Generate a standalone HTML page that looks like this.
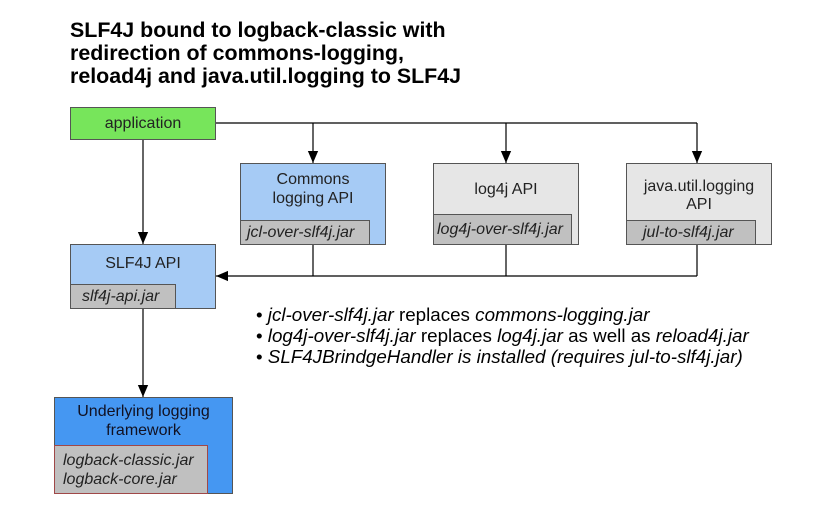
<!DOCTYPE html>
<html><head><style>
body{margin:0;width:838px;height:506px;background:#fff;overflow:hidden;font-family:"Liberation Sans",sans-serif;position:relative}
.t{position:absolute;left:70px;top:19px;font-weight:bold;font-size:21.4px;line-height:23px;color:#000;white-space:nowrap}
.b{position:absolute;box-sizing:border-box;border:1px solid #555;font-size:16px;color:#222;text-align:center;white-space:nowrap}
.j{position:absolute;left:-1px;bottom:-1px;box-sizing:border-box;border:1px solid #555;background:#c0c0c0;font-style:italic;font-size:16px;color:#222;text-align:left;padding-left:6px}
.bl{position:absolute;left:256px;font-size:18.8px;color:#000;white-space:nowrap;line-height:21px}
</style></head><body>
<div class="t">SLF4J bound to logback-classic with<br>redirection of commons-logging,<br>reload4j and java.util.logging to SLF4J</div>
<svg width="838" height="506" style="position:absolute;left:0;top:0">
<defs><marker id="a" markerWidth="12" markerHeight="14" refX="14" refY="6" orient="auto" markerUnits="userSpaceOnUse" viewBox="0 0 14 12"><path d="M0,0L14,6L0,12z" fill="#000"/></marker></defs>
<g stroke="#000" stroke-width="1.2" fill="none">
<path d="M215,123H697"/>
<path d="M313,123V163" marker-end="url(#a)"/>
<path d="M506,123V163" marker-end="url(#a)"/>
<path d="M697,123V163" marker-end="url(#a)"/>
<path d="M143,139V244" marker-end="url(#a)"/>
<path d="M143,308V397" marker-end="url(#a)"/>
<path d="M313,244V276M506,244V276M697,244V276"/>
<path d="M697,276H216" marker-end="url(#a)"/>
</g></svg>
<div class="b" style="left:70px;top:107px;width:146px;height:33px;background:#77e55b;line-height:31px">application</div>
<div class="b" style="left:240px;top:163px;width:146px;height:82px;background:#a6cbf5;padding-top:6px;line-height:19px">Commons<br>logging API<div class="j" style="width:130px;height:25px;line-height:23px">jcl-over-slf4j.jar</div></div>
<div class="b" style="left:433px;top:163px;width:146px;height:82px;background:#e6e6e6;padding-top:16px;line-height:19px">log4j API<div class="j" style="width:139px;height:31px;line-height:29px;padding-left:3px">log4j-over-slf4j.jar</div></div>
<div class="b" style="left:626px;top:163px;width:146px;height:82px;background:#e6e6e6;padding-top:14px;line-height:18px">java.util.logging<br>API<div class="j" style="width:130px;height:25px;line-height:23px;padding-left:16px">jul-to-slf4j.jar</div></div>
<div class="b" style="left:70px;top:244px;width:146px;height:65px;background:#a6cbf5;padding-top:9px;line-height:19px">SLF4J API<div class="j" style="width:106px;height:25px;line-height:23px;padding-left:11px">slf4j-api.jar</div></div>
<div class="b" style="left:54px;top:397px;width:179px;height:97px;background:#4597f2;padding-top:4px;line-height:19px;color:#112">Underlying logging<br>framework<div class="j" style="width:154px;height:49px;line-height:19px;padding-top:5px;padding-left:8px;border-color:#a04848">logback-classic.jar<br>logback-core.jar</div></div>
<div class="bl" style="top:304px">• <i>jcl-over-slf4j.jar</i> replaces <i>commons-logging.jar</i></div>
<div class="bl" style="top:325px">• <i>log4j-over-slf4j.jar</i> replaces <i>log4j.jar</i> as well as <i>reload4j.jar</i></div>
<div class="bl" style="top:346px">• <i>SLF4JBrindgeHandler is installed (requires jul-to-slf4j.jar)</i></div>
</body></html>
